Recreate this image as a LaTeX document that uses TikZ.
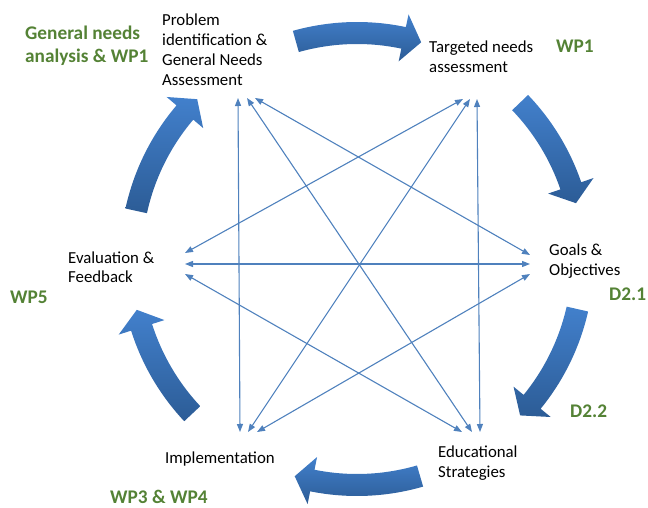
\documentclass[tikz,border=0pt]{standalone}
\usepackage{fontspec}
\setmainfont{Carlito}
\usetikzlibrary{arrows.meta}
\definecolor{gr}{RGB}{84,130,53}
\definecolor{ln}{RGB}{79,129,189}
\definecolor{bl}{RGB}{66,128,204}
\definecolor{bd}{RGB}{44,92,150}
\newcommand\ml[1]{\begin{tabular}[t]{@{}l@{}}#1\end{tabular}}
\newcommand\barrow[2]{%
  \pgfmathsetmacro\hb{#2+4.6}%
  \shade[top color=bl, bottom color=bd]
    (#1:237pt) arc[start angle=#1, end angle=\hb, radius=237pt]
    -- (\hb:250pt) -- (#2:226pt) -- (\hb:202pt) -- (\hb:215pt)
    arc[start angle=\hb, end angle=#1, radius=215pt] -- cycle;}
\tikzset{
  txt/.style={inner sep=0pt, anchor=base west, font=\fontsize{16.8}{20}\selectfont},
  grn/.style={inner sep=0pt, anchor=base west, text=gr, font=\fontsize{19.3}{23}\selectfont\bfseries},
  link/.style={draw=ln, line width=1.1pt, {Triangle[length=8pt,width=6pt]}-{Triangle[length=8pt,width=6pt]}}
}
\begin{document}
\begin{tikzpicture}[x=1pt,y=1pt]
\useasboundingbox (0,0) rectangle (648,507);
% block arrows
\begin{scope}[shift={(357,248)}]
  \barrow{105.7}{73.5}
  \barrow{43.8}{14.3}
  \barrow{-12.8}{-43.8}
  \barrow{-73.8}{-106}
  \barrow{-136.8}{-167}
  \barrow{167.7}{135}
\end{scope}
% text nodes
\node[txt] (prob) at (162,481) {\ml{Problem\\identification \&\\General Needs\\Assessment}};
\node[txt] (targ) at (429,454) {\ml{Targeted needs\\assessment}};
\node[txt] (goal) at (549,252) {\ml{Goals \&\\Objectives}};
\node[txt] (educ) at (438,50) {\ml{Educational\\Strategies}};
\node[txt] (impl) at (165,44) {Implementation};
\node[txt] (eval) at (68,244) {\ml{Evaluation \&\\Feedback}};
% green labels
\node[grn] (lgna) at (25,467) {\ml{General needs\\analysis \& WP1}};
\node[grn] (lwp1) at (556,454) {WP1};
\node[grn] (ld21) at (609,207) {D2.1};
\node[grn] (ld22) at (570,90) {D2.2};
\node[grn] (lwp34) at (110,4) {WP3 \& WP4};
\node[grn] (lwp5) at (10,204) {WP5};
% link end points
\coordinate (p1) at (238,409); \coordinate (p2) at (247,409); \coordinate (p3) at (255,409);
\coordinate (t1) at (463,408); \coordinate (t2) at (470,408); \coordinate (t3) at (477,408);
\coordinate (g1) at (530,252); \coordinate (g2) at (530,243); \coordinate (g3) at (530,233);
\coordinate (v1) at (185,254); \coordinate (v2) at (185,243); \coordinate (v3) at (185,233);
\coordinate (i1) at (240,75); \coordinate (i2) at (248,75); \coordinate (i3) at (257,75);
\coordinate (e1) at (462,75); \coordinate (e2) at (472,75); \coordinate (e3) at (480,75);
% links
\draw[link] (p1) -- (i1);
\draw[link] (p2) -- (e2);
\draw[link] (p3) -- (g1);
\draw[link] (t1) -- (v1);
\draw[link] (t2) -- (i2);
\draw[link] (t3) -- (e3);
\draw[link] (v2) -- (g2);
\draw[link] (v3) -- (e1);
\draw[link] (g3) -- (i3);
\end{tikzpicture}
\end{document}
